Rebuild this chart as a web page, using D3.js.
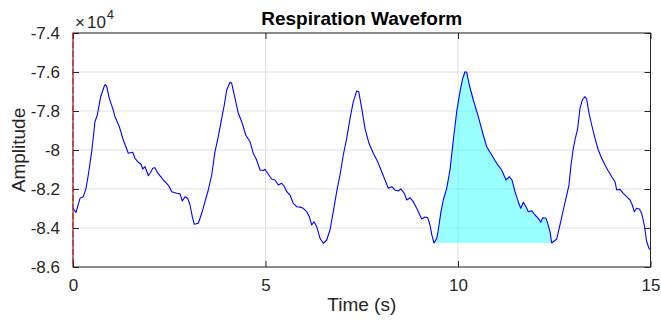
<!DOCTYPE html>
<html>
<head>
<meta charset="utf-8">
<script src="https://cdn.jsdelivr.net/npm/d3@7"></script>
<style>
  html, body { margin: 0; padding: 0; background: #fff; }
  svg { display: block; font-family: "Liberation Sans", Arial, Helvetica, sans-serif; }
</style>
</head>
<body>
<svg id="chart" width="661" height="320"></svg>
<script>
// ---- data ----
const timeS = [0,0.078,0.182,0.268,0.338,0.397,0.486,0.571,0.631,0.719,0.823,0.84,0.87,0.943,1.031,1.091,1.203,1.306,1.436,1.551,1.610,1.696,1.766,1.810,1.870,1.956,2.018,2.070,2.130,2.190,2.278,2.345,2.434,2.501,
  2.564,2.694,2.779,2.839,2.909,2.979,3.039,3.099,3.151,3.255,3.343,3.429,3.514,3.603,3.688,3.774,3.862,3.930,3.992,4.078,4.122,4.208,4.294,4.397,4.486,4.597,4.683,4.771,4.857,4.943,
  4.987,5.073,5.161,5.247,5.332,5.421,5.481,5.551,5.636,5.722,5.810,5.896,5.982,6.070,6.138,6.200,6.260,6.330,6.416,6.501,6.590,6.675,6.761,6.849,6.935,7.021,7.109,7.195,7.281,7.369,7.421,
  7.499,7.584,7.688,7.800,7.914,8.018,8.104,8.190,8.278,8.364,8.449,8.519,8.605,8.668,8.753,8.839,8.927,9.057,9.143,9.213,9.273,9.317,9.377,9.447,9.488,9.558,9.618,9.706,9.792,9.878,
  9.966,10.052,10.122,10.182,10.226,10.294,10.397,10.527,10.657,10.745,10.875,11.005,11.135,11.247,11.332,11.403,11.481,11.566,11.629,11.696,11.766,11.826,11.914,12.000,12.086,12.148,12.200,12.286,12.330,12.390,12.434,
  12.564,12.649,12.735,12.823,12.883,12.935,12.995,13.039,13.109,13.169,13.229,13.299,13.343,13.403,13.473,13.558,13.644,13.732,13.818,13.904,13.992,14.078,14.122,14.208,14.294,14.382,14.468,14.527,14.579,14.642,14.709,14.771,14.839,14.901,14.961,15];
const amplitude = [-82990,-83195,-82477,-82395,-81964,-81282,-80087,-78549,-78205,-77267,-76667,-76650,-76700,-77349,-77862,-78292,-78805,-79487,-80169,-80118,-80426,-80631,-80733,-80974,-80856,-81318,-81144,-80938,-80908,-81144,-81369,-81538,-81708,-81882,
  -82138,-82221,-82250,-82615,-82395,-82477,-82821,-83421,-83810,-83759,-83246,-82651,-82051,-81282,-80087,-79318,-78374,-77692,-76923,-76528,-76580,-77349,-78118,-78631,-79231,-79574,-80169,-80513,-81026,-81050,
  -80990,-81246,-81487,-81538,-81795,-81708,-81846,-82138,-82308,-82733,-82908,-82930,-82990,-83164,-83421,-83846,-83677,-83933,-84528,-84785,-84615,-84103,-83164,-82138,-81282,-80256,-79400,-78374,-77523,-76974,-77010,
  -77862,-78887,-79656,-80169,-80600,-81113,-81538,-81964,-81882,-82051,-82103,-82000,-82221,-82564,-82446,-82651,-82990,-83538,-83436,-83470,-83846,-84323,-84770,-84528,-84103,-83164,-82564,-81964,-81026,-79487,
  -78036,-77010,-76323,-75985,-76015,-76667,-77436,-78292,-79231,-79831,-80256,-80682,-81026,-81538,-81369,-81550,-82138,-82651,-82990,-82682,-82908,-83164,-83113,-83333,-83503,-83708,-83472,-83503,-83759,-84190,-84770,
  -84564,-83846,-83077,-82308,-81795,-80769,-79913,-79487,-78887,-77862,-77436,-77267,-77400,-78118,-78718,-79400,-80000,-80426,-80769,-81077,-81369,-81626,-82051,-82020,-82221,-82395,-82564,-82821,-83164,-82990,-83026,-83246,-83846,-84703,-85041,-85128];
const xTicks = [0, 5, 10, 15];
const xTickLabels = ["0", "5", "10", "15"];
const yTicks = [-74000, -76000, -78000, -80000, -82000, -84000, -86000];
const yTickLabels = ["-7.4", "-7.6", "-7.8", "-8", "-8.2", "-8.4", "-8.6"];
const fillRange = [9.377, 12.434];   // highlighted breath (s)
const markerTime = 0;                // red dashed marker

// ---- layout ----
const svg = d3.select("#chart");
const L = 73, R = 650.5, T = 33, B = 267;
const x = d3.scaleLinear().domain([0, 15]).range([L, R]);
const y = d3.scaleLinear().domain([-86000, -74000]).range([B, T]);
const ink = "#262626";
const tickLen = 6;

// grid
const grid = svg.append("g").attr("stroke", "#dfdfdf").attr("stroke-width", 1);
xTicks.forEach(t => grid.append("line").attr("x1", x(t)).attr("x2", x(t)).attr("y1", T).attr("y2", B));
yTicks.forEach(t => grid.append("line").attr("x1", L).attr("x2", R).attr("y1", y(t)).attr("y2", y(t)));

svg.append("clipPath").attr("id", "clip").append("rect")
  .attr("x", L).attr("y", T).attr("width", R - L).attr("height", B - T);
const plot = svg.append("g").attr("clip-path", "url(#clip)");

// fill area
const pts = timeS.map((t, i) => ({ t, v: amplitude[i] }));
const seg = pts.filter(d => d.t >= fillRange[0] && d.t <= fillRange[1]);
const base = d3.min(seg, d => d.v);
plot.append("path").datum(seg)
  .attr("fill", "#00ffff").attr("fill-opacity", 0.4).attr("stroke", "none")
  .attr("d", d3.area().x(d => x(d.t)).y0(y(base)).y1(d => y(d.v)));

// line
plot.append("path").datum(pts)
  .attr("fill", "none").attr("stroke", "#0000ff").attr("stroke-width", 1.1)
  .attr("stroke-linejoin", "round")
  .attr("d", d3.line().x(d => x(d.t)).y(d => y(d.v)));

// axes box
const ax = svg.append("g").attr("stroke", ink).attr("stroke-width", 1).attr("fill", "none");
ax.append("rect").attr("x", L).attr("y", T).attr("width", R - L).attr("height", B - T).attr("stroke", ink);

// x axis (bottom) via d3 axis with inward ticks
const xAxis = d3.axisBottom(x).tickValues(xTicks).tickSizeInner(-tickLen).tickSizeOuter(0)
  .tickFormat((d, i) => xTickLabels[i]).tickPadding(12);
const gx = svg.append("g").attr("transform", `translate(0,${B})`).call(xAxis);
gx.select(".domain").remove();
gx.selectAll(".tick line").attr("stroke", ink);
gx.selectAll(".tick text").attr("fill", ink).attr("font-size", 17).attr("font-family", "Liberation Sans, Arial, sans-serif").attr("dy", "0.71em");

const xTop = d3.axisTop(x).tickValues(xTicks).tickSizeInner(-tickLen).tickSizeOuter(0).tickFormat("");
const gxt = svg.append("g").attr("transform", `translate(0,${T})`).call(xTop);
gxt.select(".domain").remove();
gxt.selectAll(".tick line").attr("stroke", ink);

// y axis
const yAxis = d3.axisLeft(y).tickValues(yTicks).tickSizeInner(-tickLen).tickSizeOuter(0)
  .tickFormat((d, i) => yTickLabels[i]).tickPadding(13);
const gy = svg.append("g").attr("transform", `translate(${L},0)`).call(yAxis);
gy.select(".domain").remove();
gy.selectAll(".tick line").attr("stroke", ink);
gy.selectAll(".tick text").attr("fill", ink).attr("font-size", 17).attr("font-family", "Liberation Sans, Arial, sans-serif");

const yRight = d3.axisRight(y).tickValues(yTicks).tickSizeInner(-tickLen).tickSizeOuter(0).tickFormat("");
const gyr = svg.append("g").attr("transform", `translate(${R},0)`).call(yRight);
gyr.select(".domain").remove();
gyr.selectAll(".tick line").attr("stroke", ink);

// red dashed marker at t=0
svg.append("line")
  .attr("x1", x(markerTime)).attr("x2", x(markerTime)).attr("y1", T).attr("y2", B)
  .attr("stroke", "#ff0000").attr("stroke-width", 1).attr("stroke-dasharray", "6,3");

// exponent label
const ex = svg.append("text").attr("x", L + 2).attr("y", 28).attr("fill", ink).attr("font-size", 17);
ex.append("tspan").text("×");
ex.append("tspan").attr("dx", 2).text("10");
ex.append("tspan").attr("font-size", 13).attr("dy", -9).attr("dx", 1).text("4");

// title
svg.append("text").attr("x", (L + R) / 2).attr("y", 25).attr("text-anchor", "middle")
  .attr("font-size", 19).attr("font-weight", "bold").attr("fill", "#000").text("Respiration Waveform");

// axis labels
svg.append("text").attr("x", (L + R) / 2).attr("y", 311).attr("text-anchor", "middle")
  .attr("font-size", 19).attr("fill", ink).text("Time (s)");
svg.append("text").attr("transform", `translate(25,${(T + B) / 2}) rotate(-90)`).attr("text-anchor", "middle")
  .attr("font-size", 19).attr("fill", ink).text("Amplitude");
</script>
</body>
</html>
